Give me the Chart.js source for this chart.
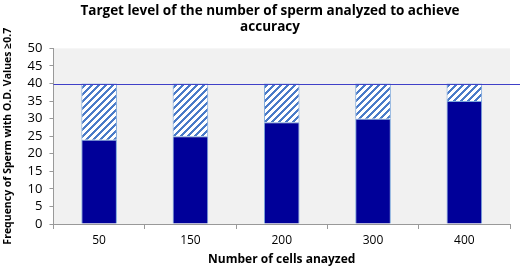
<!DOCTYPE html>
<html><head><meta charset="utf-8">
<script src="https://cdn.jsdelivr.net/npm/chart.js@4"></script>
<style>html,body{margin:0;padding:0;background:#fff}#wrap{width:520px;height:266px}</style>
</head><body><div id="wrap"><canvas id="c" width="520" height="266"></canvas></div>
<script>
const categories = ['50', '150', '200', '300', '400'];
const analyzedValues = [24, 25, 29, 30, 35];
const remainingValues = [16, 15, 11, 10, 5];
const targetLevel = 40;
const yTicks = [0, 5, 10, 15, 20, 25, 30, 35, 40, 45, 50];

function hatch() {
  const s = 7;
  const c = document.createElement('canvas');
  c.width = s; c.height = s;
  const g = c.getContext('2d');
  g.fillStyle = '#ffffff'; g.fillRect(0, 0, s, s);
  g.fillStyle = '#4a7bc8';
  for (let x = 0; x < s; x++) for (let y = 0; y < s; y++) {
    if ((x + y) % s < 3) g.fillRect(x, y, 1, 1);
  }
  return g.createPattern(c, 'repeat');
}

const bgPlugin = {
  id: 'bg',
  afterLayout(chart) {
    if (chart.titleBlock) { chart.titleBlock.left += 14; chart.titleBlock.right += 14; }
  },
  beforeDraw(chart) {
    const {ctx, chartArea: a} = chart;
    ctx.save();
    ctx.fillStyle = '#f1f1f1';
    ctx.fillRect(a.left, a.top, a.right - a.left, a.bottom - a.top);
    ctx.restore();
  }
};
const linePlugin = {
  id: 'target',
  afterDatasetsDraw(chart) {
    const {ctx} = chart;
    const y = Math.round(chart.scales.y.getPixelForValue(targetLevel)) + 0.5;
    ctx.save();
    ctx.strokeStyle = '#4040c8'; ctx.lineWidth = 1.2;
    ctx.beginPath(); ctx.moveTo(chart.scales.y.right, y); ctx.lineTo(chart.width, y); ctx.stroke();
    ctx.restore();
  }
};

new Chart(document.getElementById('c'), {
  type: 'bar',
  data: {
    labels: categories,
    datasets: [
      { data: analyzedValues, backgroundColor: '#000099', borderColor: '#7aa6dc', borderWidth: 1, barPercentage: 0.39, categoryPercentage: 1 },
      { data: remainingValues, backgroundColor: hatch(), borderColor: '#7aa6dc', borderWidth: 1, barPercentage: 0.39, categoryPercentage: 1 }
    ]
  },
  options: {
    responsive: false, animation: false,
    layout: { padding: { left: 2, right: 10, top: 0, bottom: 0 } },
    plugins: {
      legend: { display: false }, tooltip: { enabled: false },
      title: {
        display: true,
        text: ['Target level of the number of sperm analyzed to achieve', 'accuracy'],
        color: '#000', font: { family: 'Open Sans', weight: 'bold', size: 13.5 },
        padding: { top: 3, bottom: 13 }, lineHeight: 1.2
      }
    },
    scales: {
      x: {
        stacked: true,
        grid: { display: true, offset: true, drawOnChartArea: false, drawTicks: true, tickLength: 5, color: '#999' },
        border: { display: true, color: '#999' },
        ticks: { color: '#000', font: { family: 'Open Sans', size: 12, lineHeight: 1.0 }, padding: 6 },
        title: { display: true, text: 'Number of cells anayzed', color: '#000', font: { family: 'Open Sans', weight: 'bold', size: 12, lineHeight: 1.0 }, padding: { top: 1, bottom: 0 } }
      },
      y: {
        stacked: true, min: 0, max: 50,
        afterBuildTicks(s) { s.ticks = yTicks.map(v => ({ value: v })); },
        grid: { display: true, drawOnChartArea: false, drawTicks: true, tickLength: 4, color: '#999' },
        border: { display: true, color: '#999' },
        ticks: { color: '#000', font: { family: 'Open Sans', size: 13 }, padding: 7, autoSkip: false },
        title: { display: true, text: 'Frequency of Sperm with O.D. Values ≥0.7', color: '#000', font: { family: 'Open Sans', weight: 'bold', size: 10.5 }, padding: { top: 0, bottom: 6 } }
      }
    }
  },
  plugins: [bgPlugin, linePlugin]
});
</script></body></html>
